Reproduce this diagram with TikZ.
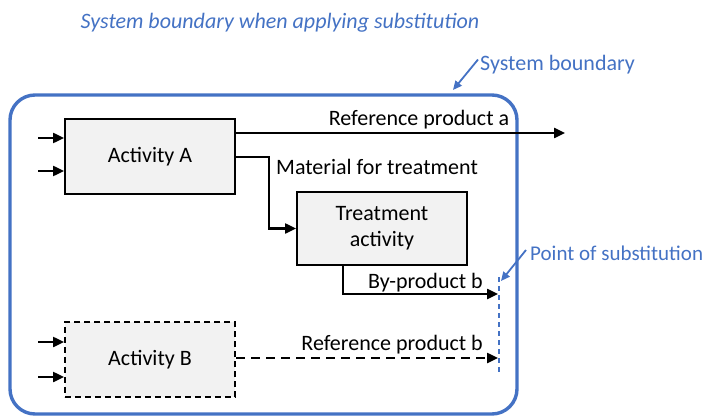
\documentclass[tikz,border=0pt]{standalone}
\usepackage{fontspec}
\setmainfont{Carlito}
\usetikzlibrary{arrows.meta}
\definecolor{sysblue}{HTML}{4472C4}
\definecolor{boxgray}{HTML}{F2F2F2}
\begin{document}
\begin{tikzpicture}[x=1pt,y=-1pt,
  txt/.style={font=\fontsize{22}{26}\selectfont, inner sep=0pt},
  box/.style={txt, draw=black, line width=2pt, fill=boxgray,
    minimum width=170pt, minimum height=75pt, align=center},
  dashbox/.style={box, dash pattern=on 6pt off 4pt},
  flow/.style={line width=2.4pt, -{Triangle[length=11pt,width=10pt]}},
  dashflow/.style={flow, dash pattern=on 9pt off 6pt},
  pointer/.style={draw=sysblue, line width=1.8pt, -{Triangle[length=9pt,width=8pt]}},
  bluetxt/.style={txt, text=sysblue}]
\useasboundingbox (0,0) rectangle (710,417);

% system boundary
\draw[sysblue, line width=3.4pt, rounded corners=25pt] (10,95) rectangle (517,414);
\node[bluetxt, font=\fontsize{22}{26}\selectfont\itshape, anchor=base] (title) at (280,29) {System boundary when applying substitution};
\node[bluetxt, anchor=base west] (sbl) at (480,71) {System boundary};
\coordinate (sbtip) at (453,90);
\draw[pointer] (sbl.north west) ++(-2,4) coordinate (sbstart) -- (sbtip);

% activities
\node[box] (A) at (150,156.5) {Activity A};
\node[box, minimum height=73pt] (T) at (382,228.5) {Treatment\\activity};
\node[dashbox] (B) at (150,359.5) {Activity B};

% inputs
\foreach \n/\y in {1/138, 2/171} {
  \coordinate (inA\n) at (38,\y);
  \draw[flow] (inA\n) -- (inA\n -| A.west);
}
\foreach \n/\y in {1/342, 2/377} {
  \coordinate (inB\n) at (38,\y);
  \draw[flow] (inB\n) -- (inB\n -| B.west);
}

% reference product a
\coordinate (raEnd) at (565,133);
\draw[flow] (A.east |- raEnd) -- (raEnd);
\node[txt, anchor=base] (ral) at (419,126) {Reference product a};

% material for treatment
\coordinate (matBend) at (269,157);
\draw[flow] (A.east |- matBend) -- (matBend) |- (T.west);
\node[txt, anchor=base west] (matl) at (276,175) {Material for treatment};

% point of substitution
\coordinate (subTop) at (499,277);
\coordinate (subBot) at (499,374);
\draw[sysblue, line width=1.4pt, dash pattern=on 5pt off 4pt] (subTop) -- (subBot);
\node[bluetxt, font=\fontsize{21}{26}\selectfont, anchor=base west] (posl) at (530,260) {Point of substitution};
\draw[pointer] (526,250) coordinate (posStart) -- (501,281) coordinate (posTip);

% by-product b
\coordinate (byDrop) at (343,265);
\coordinate (byEnd) at (498,294);
\draw[flow] (byDrop) |- (byEnd);
\node[txt, anchor=base east] (byl) at (483,288) {By-product b};

% reference product b
\coordinate (rbEnd) at (498,358);
\draw[dashflow] (B.east |- rbEnd) -- (rbEnd);
\node[txt, anchor=base east] (rbl) at (483,350) {Reference product b};
\end{tikzpicture}
\end{document}
